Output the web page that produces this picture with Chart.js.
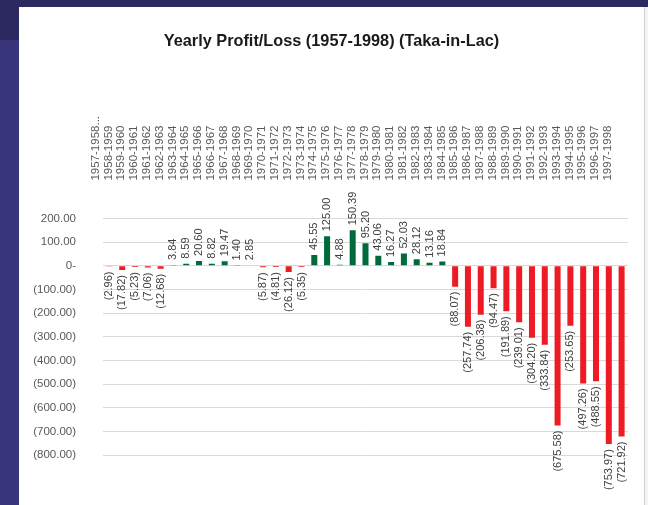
<!DOCTYPE html>
<html>
<head>
<meta charset="utf-8">
<script src="https://cdn.jsdelivr.net/npm/chart.js@4/dist/chart.umd.min.js"></script>
<style>
  html, body { margin: 0; padding: 0; }
  body { width: 648px; height: 505px; background: #2c2961; position: relative; overflow: hidden; }
  #side { position: absolute; left: 0; top: 40px; width: 19px; height: 465px; background: #38357a; }
  #panel { position: absolute; left: 19px; top: 7px; width: 625px; height: 498px; background: #fff; border-right: 1px solid #cfcfcf; }
  #edge { position: absolute; left: 645px; top: 7px; width: 3px; height: 498px; background: #f4f4f4; }
</style>
</head>
<body>
<div id="side"></div>
<div id="panel"><canvas id="myChart" width="625" height="498"></canvas></div>
<div id="edge"></div>
<script>
const years = ['1957-1958...', '1958-1959', '1959-1960', '1960-1961', '1961-1962', '1962-1963', '1963-1964',
  '1964-1965', '1965-1966', '1966-1967', '1967-1968', '1968-1969', '1969-1970', '1970-1971', '1971-1972',
  '1972-1973', '1973-1974', '1974-1975', '1975-1976', '1976-1977', '1977-1978', '1978-1979', '1979-1980',
  '1980-1981', '1981-1982', '1982-1983', '1983-1984', '1984-1985', '1985-1986', '1986-1987', '1987-1988',
  '1988-1989', '1989-1990', '1990-1991', '1991-1992', '1992-1993', '1993-1994', '1994-1995', '1995-1996',
  '1996-1997', '1997-1998'];

const profitLoss = [-2.96, -17.82, -5.23, -7.06, -12.68, 3.84, 8.59,
  20.60, 8.82, 19.47, 1.40, 2.85, -5.87, -4.81, -26.12,
  -5.35, 45.55, 125.00, 4.88, 150.39, 95.20, 43.06, 16.27,
  52.03, 28.12, 13.16, 18.84, -88.07, -257.74, -206.38, -94.47,
  -191.89, -239.01, -304.20, -333.84, -675.58, -253.65, -497.26, -488.55,
  -753.97, -721.92];

const yMin = -800, yMax = 200, yStep = 100;

function fmt(v) {
  if (v === 0) return '0-';
  const s = Math.abs(v).toFixed(2);
  return v < 0 ? '(' + s + ')' : s;
}

// value labels drawn vertically above/below each bar
const barLabels = {
  id: 'barLabels',
  afterDatasetsDraw(chart) {
    const ctx = chart.ctx;
    const meta = chart.getDatasetMeta(0);
    ctx.save();
    ctx.font = '11px "Liberation Sans", Arial, sans-serif';
    ctx.fillStyle = '#404040';
    ctx.textBaseline = 'middle';
    meta.data.forEach((bar, i) => {
      const v = profitLoss[i];
      ctx.save();
      ctx.translate(bar.x, bar.y);
      ctx.rotate(-Math.PI / 2);
      if (v >= 0) {
        ctx.textAlign = 'left';
        ctx.fillText(fmt(v), 5, 0);
      } else {
        ctx.textAlign = 'right';
        ctx.fillText(fmt(v), -5, 0);
      }
      ctx.restore();
    });
    ctx.restore();
  }
};

const myChart = document.getElementById('myChart').getContext('2d');

const plChart = new Chart(myChart, {
  type: 'bar',
  data: {
    labels: years,
    datasets: [{
      label: 'Profit/Loss',
      data: profitLoss,
      backgroundColor: profitLoss.map(v => v < 0 ? '#ed1c24' : '#006b3a'),
      barPercentage: 0.47,
      categoryPercentage: 1
    }]
  },
  options: {
    responsive: false,
    animation: false,
    layout: { padding: { left: 0, right: 0, top: 0, bottom: 50 } },
    plugins: {
      legend: { display: false },
      tooltip: { enabled: false },
      title: {
        display: true,
        text: 'Yearly Profit/Loss (1957-1998) (Taka-in-Lac)',
        color: '#1a1a1a',
        font: { family: "'Liberation Sans Narrow', 'Arial Narrow', sans-serif", size: 16.3, weight: 'bold' },
        padding: { top: 25, bottom: 64 }
      }
    },
    scales: {
      x: {
        position: 'top',
        grid: { display: false, drawTicks: false },
        border: { display: false },
        afterFit: s => { s.height = 103; s.paddingLeft = 0; s.paddingRight = 16; },
        ticks: {
          autoSkip: false,
          minRotation: 90,
          maxRotation: 90,
          padding: 38,
          color: '#595959',
          font: { family: "'Liberation Sans', Arial, sans-serif", size: 11.5 }
        }
      },
      y: {
        min: yMin,
        max: yMax,
        grid: { color: '#d9d9d9', drawTicks: false },
        border: { display: false },
        afterFit: s => { s.width = 84; },
        ticks: {
          stepSize: yStep,
          padding: 27,
          color: '#595959',
          font: { family: "'Liberation Sans', Arial, sans-serif", size: 11.5 },
          callback: v => fmt(v)
        }
      }
    }
  },
  plugins: [barLabels]
});
</script>
</body>
</html>
